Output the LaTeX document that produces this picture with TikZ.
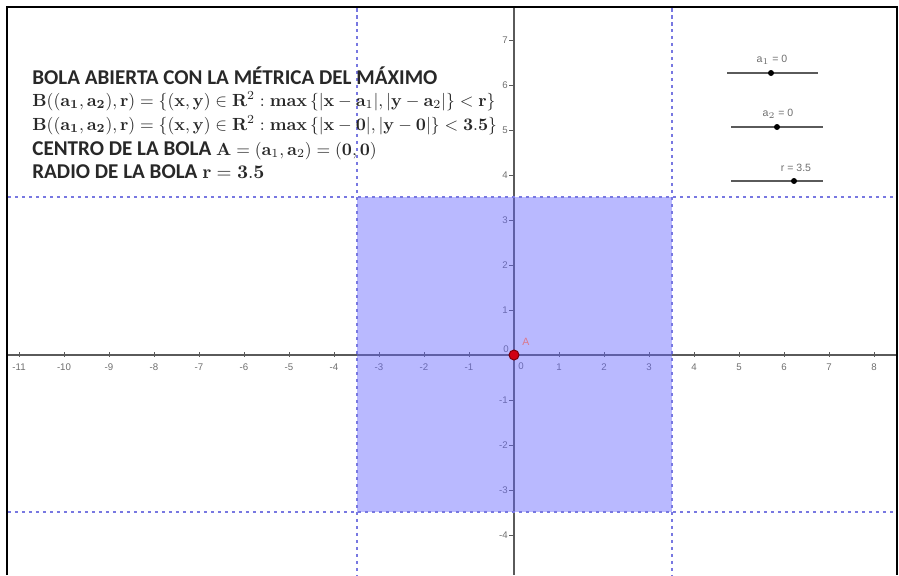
\documentclass[tikz,border=0pt]{standalone}
\usepackage[no-math]{fontspec}
\setmainfont{Carlito}
\newfontfamily\tickfont{Liberation Sans}
\definecolor{ballfill}{RGB}{102,102,255}
\definecolor{dashcol}{RGB}{120,120,225}
\definecolor{axiscol}{RGB}{90,90,90}
\definecolor{ticklab}{RGB}{110,110,110}
\definecolor{ptred}{RGB}{210,0,20}
\definecolor{ptlab}{RGB}{220,120,140}
\definecolor{txtcol}{RGB}{40,40,40}
\newcommand{\mfs}{\fontsize{10}{12}\selectfont}
\newcommand{\fmlone}{{\mfs$\mathbf{B((a_1,a_2),r)}=\{(\mathbf{x},\mathbf{y})\in\mathbf{R}^2:\mathbf{max}\,\{|\mathbf{x}-\mathbf{a}_1|,|\mathbf{y}-\mathbf{a}_2|\}<\mathbf{r}\}$}}
\newcommand{\fmltwo}{{\mfs$\mathbf{B((a_1,a_2),r)}=\{(\mathbf{x},\mathbf{y})\in\mathbf{R}^2:\mathbf{max}\,\{|\mathbf{x}-\mathbf{0}|,|\mathbf{y}-\mathbf{0}|\}<\mathbf{3.5}\}$}}
\newcommand{\fmlthree}{{\mfs$\mathbf{A}=(\mathbf{a}_1,\mathbf{a}_2)=(\mathbf{0},\mathbf{0})$}}
\newcommand{\fmlfour}{{\fontsize{11}{13}\selectfont$\mathbf{r}=\mathbf{3.5}$}}
\tikzset{
  axisline/.style={axiscol, line width=0.028cm},
  tickmark/.style={axiscol, line width=0.02cm},
  ticklabel/.style={text=ticklab, font=\tickfont\fontsize{5.5}{6}\selectfont, inner sep=0pt},
  dashline/.style={dashcol, line width=0.026cm, dash pattern=on 0.07cm off 0.07cm},
  ballbox/.style={fill=ballfill, fill opacity=0.46},
  maintext/.style={anchor=base west, inner sep=0pt, text=txtcol, font=\fontsize{12}{14}\selectfont\bfseries},
  sliderline/.style={axiscol, line width=0.025cm},
  sliderpt/.style={circle, fill=black, inner sep=0pt, minimum size=0.12cm},
  sliderlab/.style={text=ticklab, font=\tickfont\fontsize{6}{7}\selectfont, inner sep=0pt},
  frameline/.style={black, line width=0.045cm}
}
\begin{document}
\begin{tikzpicture}[x=0.02cm,y=-0.02cm]
\useasboundingbox (0,0) rectangle (899,575);
% axes
\draw[axisline] (8,355) -- (897,355);
\draw[axisline] (514,8) -- (514,575);
\foreach \i in {-11,...,-1,1,2,...,8} {
  \draw[tickmark] (514+45*\i,352) -- (514+45*\i,357);
  \node[ticklabel] (xl\i) at (514+45*\i,367) {\i};
}
\foreach \j in {-4,...,-1,1,2,...,7} {
  \draw[tickmark] (509,355-45*\j) -- (514,355-45*\j);
  \node[ticklabel, anchor=east] (yl\j) at (508,355-45*\j) {\j};
}
\node[ticklabel] (xl0) at (521,366) {0};
\node[ticklabel] (yl0) at (506,349) {0};
% open ball
\fill[ballbox] (357,197) rectangle (672,512);
% dashed boundary lines
\draw[dashline] (357,8) -- (357,575);
\draw[dashline] (672,8) -- (672,575);
\draw[dashline] (8,197) -- (897,197);
\draw[dashline] (8,512) -- (897,512);
% center point
\node[circle, fill=ptred, draw=ptred!60!black, line width=0.02cm, inner sep=0pt, minimum size=0.2cm] (A) at (514,355) {};
\node[text=ptlab, font=\tickfont\fontsize{6}{7}\selectfont, inner sep=0pt] (Alab) at (526,342) {A};
% texts
\node[maintext] (t1) at (32,84) {BOLA ABIERTA CON LA MÉTRICA DEL MÁXIMO};
\node[maintext] (t2) at (32,106) {\fmlone};
\node[maintext] (t3) at (32,130) {\fmltwo};
\node[maintext] (t4) at (32,155) {CENTRO DE LA BOLA \fmlthree};
\node[maintext] (t5) at (32,178) {RADIO DE LA BOLA \fmlfour};
% sliders
\draw[sliderline] (727,73) -- (818,73);
\node[sliderpt] (s1) at (771,73) {};
\node[sliderlab] (s1l) at (772,60) {a$_1$ = 0};
\draw[sliderline] (731,127) -- (823,127);
\node[sliderpt] (s2) at (777,127) {};
\node[sliderlab] (s2l) at (778,114) {a$_2$ = 0};
\draw[sliderline] (731,181) -- (823,181);
\node[sliderpt] (s3) at (794,181) {};
\node[sliderlab] (s3l) at (796,168) {r = 3.5};
% frame
\draw[frameline] (7,575) -- (7,7) -- (897,7) -- (897,575);
\end{tikzpicture}
\end{document}
